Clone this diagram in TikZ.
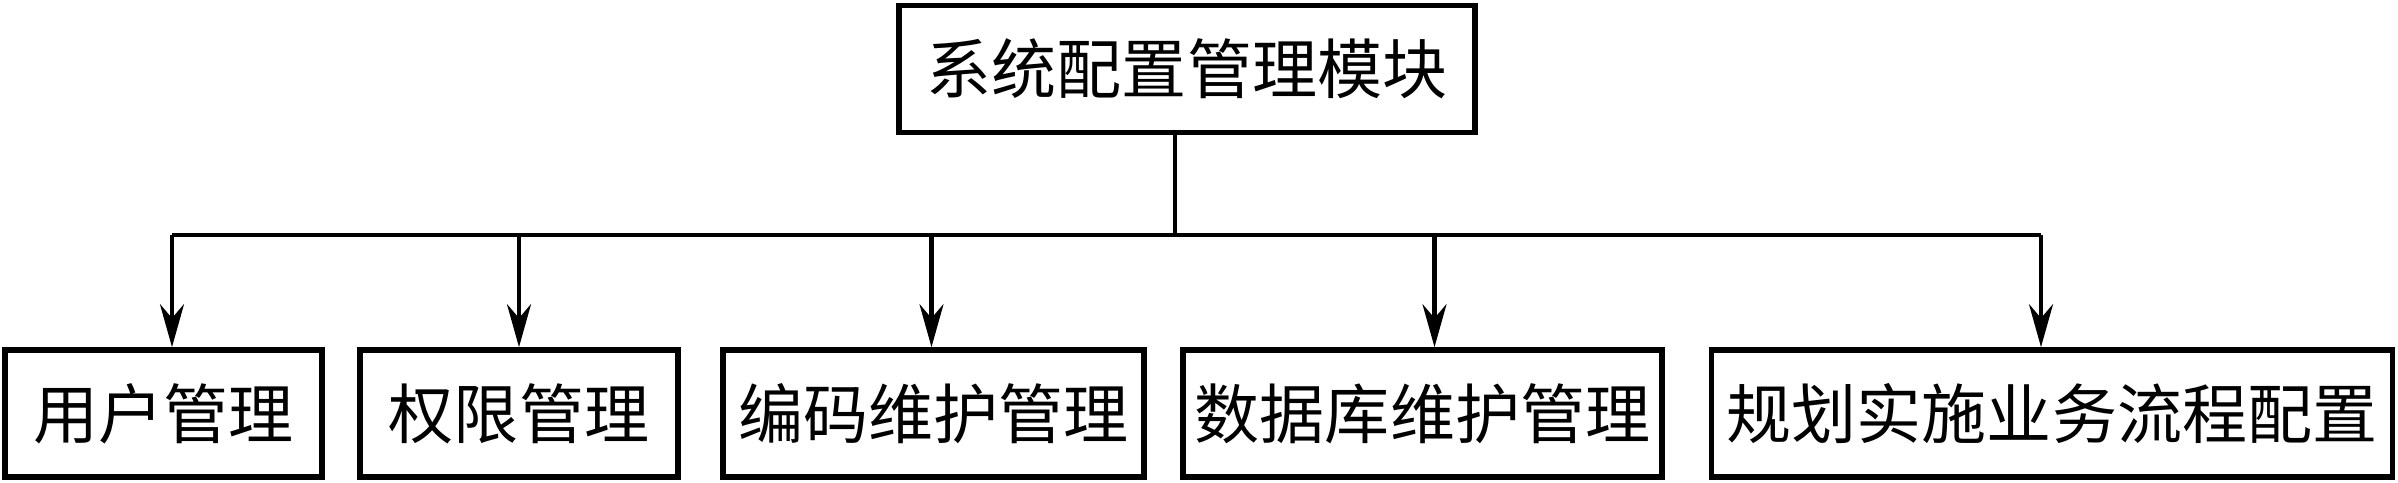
\documentclass[tikz,border=0pt]{standalone}
\usepackage{fontspec}
\newfontfamily\cjk{Noto Sans CJK SC}
\usetikzlibrary{arrows.meta,calc}
\begin{document}
\begin{tikzpicture}[>={Stealth[length=4.3mm,width=2.4mm]},
  box/.style={draw,line width=1.6pt,minimum height=12.7mm,inner sep=0pt,font=\cjk\fontsize{18.5}{22}\selectfont},
  conn/.style={line width=1.3pt}]
\useasboundingbox (0,0) rectangle (23.98,-4.83);
\node[box,minimum width=57.6mm](sys) at (11.87,-.69){系统配置管理模块};
\node[box,minimum width=31.7mm](yh) at (1.635,-4.135){用户管理};
\node[box,minimum width=31.8mm](qx) at (5.19,-4.135){权限管理};
\node[box,minimum width=42.1mm](bm) at (9.335,-4.135){编码维护管理};
\node[box,minimum width=47.9mm](sj) at (14.225,-4.135){数据库维护管理};
\node[box,minimum width=68.1mm](gh) at (20.52,-4.135){规划实施业务流程配置};
\coordinate (bus) at (11.75,-2.35);
\draw[conn](bus|-sys.south)--(bus);
\draw[conn]($(yh.north|-bus)+(.085,0)$)--($(gh.north|-bus)+(-.11,0)$);
\foreach \n/\d in {yh/.085,qx/0,bm/-.02,sj/.12,gh/-.11}
  \draw[conn,->]($(\n.north|-bus)+(\d,0)$)--($(\n.north)+(\d,0)$);
\end{tikzpicture}
\end{document}
